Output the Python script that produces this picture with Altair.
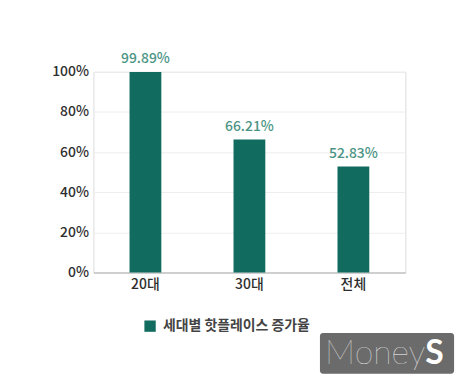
import altair as alt
import pandas as pd

categories = ["20대", "30대", "전체"]
values = [99.89, 66.21, 52.83]
labels = ["99.89%", "66.21%", "52.83%"]
series_name = "세대별 핫플레이스 증가율"

df = pd.DataFrame({"cat": categories, "val": values, "lab": labels, "series": [series_name] * 3})

FONT = "Noto Sans CJK KR"
BAR = "#116b5e"

x = alt.X("cat:N", sort=categories, title=None,
          scale=alt.Scale(paddingInner=0.69, paddingOuter=0.345),
          axis=alt.Axis(labelAngle=0, labelFont=FONT, labelFontSize=14, labelFontWeight=500,
                        labelColor="#2e2e2e", tickSize=0, labelPadding=5,
                        domainColor="#b0b0b0", grid=False))
y = alt.Y("val:Q", title=None, scale=alt.Scale(domain=[0, 100]),
          axis=alt.Axis(values=[0, 20, 40, 60, 80, 100], labelExpr="datum.value + '%'",
                        labelFont=FONT, labelFontSize=14, labelFontWeight=500,
                        labelColor="#2e2e2e", tickSize=0, labelPadding=5, domain=False,
                        gridColor="#eeeeee"))

bars = alt.Chart(df).mark_bar(size=32).encode(
    x=x, y=y,
    color=alt.Color("series:N", scale=alt.Scale(range=[BAR]), title=None,
                    legend=alt.Legend(orient="none", legendX=50, legendY=249,
                                      symbolType="square", symbolSize=130,
                                      symbolStrokeWidth=0,
                                      labelFont=FONT, labelFontSize=14, labelFontWeight="bold",
                                      labelColor="#444444", labelOffset=6))
)

text = alt.Chart(df).mark_text(dy=-13, font=FONT, fontSize=14, fontWeight=500, color="#4b9485").encode(
    x=alt.X("cat:N", sort=categories), y="val:Q", text="lab:N"
)

wm = pd.DataFrame({"a": [1]})
wrect = alt.Chart(wm).mark_rect(color="#6b6b6b", cornerRadius=3).encode(
    x=alt.value(228), x2=alt.value(363), y=alt.value(263), y2=alt.value(304)
)
wtext1 = alt.Chart(wm).mark_text(text="Money", font="Lato", fontWeight=100, fontSize=34,
                                 color="white", align="right", baseline="middle").encode(
    x=alt.value(334), y=alt.value(284)
)
wtext2 = alt.Chart(wm).mark_text(text="S", font="Lato", fontWeight="bold", fontSize=34,
                                 color="white", align="left", baseline="middle").encode(
    x=alt.value(334), y=alt.value(284)
)

chart = alt.layer(bars, text, wrect, wtext1, wtext2).properties(
    width=314, height=202,
    autosize=alt.AutoSizeParams(type="none"),
    padding={"left": 86, "top": 63, "right": 60, "bottom": 110},
).configure_view(stroke=None).configure(background="white")

chart.save("out.html", embed_options={"renderer": "svg", "actions": False})
